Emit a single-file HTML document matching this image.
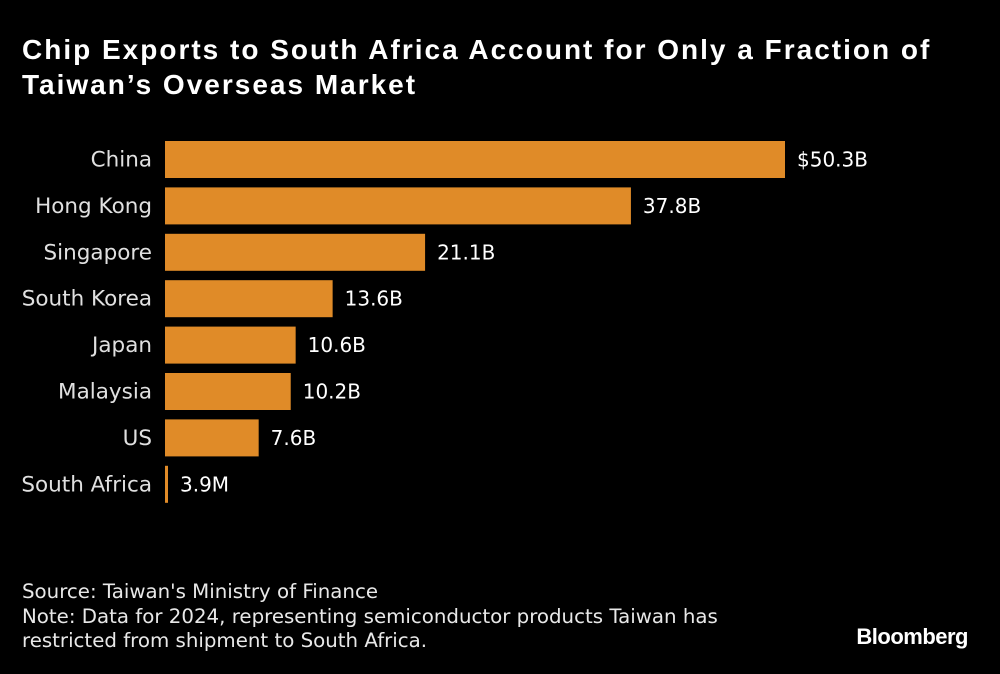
<!DOCTYPE html>
<html><head><meta charset="utf-8">
<style>
html,body{margin:0;padding:0;background:#000;}
body{width:1000px;height:674px;position:relative;overflow:hidden;font-family:"Liberation Sans",sans-serif;color:#fff;}
#title{position:absolute;left:22px;top:32px;font-size:28px;font-weight:bold;line-height:35px;letter-spacing:2.0px;white-space:nowrap;}
#foot{position:absolute;left:22px;top:580px;font-family:"DejaVu Sans",sans-serif;font-size:19.8px;line-height:24.5px;color:#e8e8e8;white-space:nowrap;}
#logo{position:absolute;right:32px;top:624px;font-size:22px;font-weight:bold;letter-spacing:-0.5px;}
svg{position:absolute;left:0;top:0;}
</style></head><body>
<div id="title">Chip Exports to South Africa Account for Only a Fraction of<br>Taiwan’s Overseas Market</div>
<svg id="chart" width="1000" height="674"></svg>
<div id="foot">Source: Taiwan's Ministry of Finance<br>Note: Data for 2024, representing semiconductor products Taiwan has<br>restricted from shipment to South Africa.</div>
<div id="logo">Bloomberg</div>
<script>
const categories=["China","Hong Kong","Singapore","South Korea","Japan","Malaysia","US","South Africa"];
const values=[50.3,37.8,21.1,13.6,10.6,10.2,7.6,0.0039];
const valueLabels=["$50.3B","37.8B","21.1B","13.6B","10.6B","10.2B","7.6B","3.9M"];
const svg=document.getElementById('chart');
const NS='http://www.w3.org/2000/svg';
const x0=165,pxPerB=620/50.3,top0=141,step=46.4,bh=37;
function xScale(v){return Math.max(3,v*pxPerB);}
function yScale(i){return top0+i*step;}
categories.forEach((c,i)=>{
  const y=yScale(i),w=xScale(values[i]);
  const r=document.createElementNS(NS,'rect');
  r.setAttribute('x',x0);r.setAttribute('y',y);r.setAttribute('width',w);r.setAttribute('height',bh);r.setAttribute('fill','#e08b28');
  
  
  svg.appendChild(r);
  const t=document.createElementNS(NS,'text');
  t.setAttribute('x',152);t.setAttribute('y',y+bh/2+7);t.setAttribute('text-anchor','end');
  t.setAttribute('fill','#e0e0e0');t.setAttribute('font-size','21.5');t.setAttribute('font-family','DejaVu Sans, sans-serif');
  t.textContent=c;
  
  
  svg.appendChild(t);
  const v=document.createElementNS(NS,'text');
  v.setAttribute('x',x0+w+12);v.setAttribute('y',y+bh/2+7);
  v.setAttribute('fill','#fff');v.setAttribute('font-size','20');v.setAttribute('font-family','DejaVu Sans, sans-serif');
  v.textContent=valueLabels[i];
  
  
  svg.appendChild(v);
});
</script>
</body></html>
